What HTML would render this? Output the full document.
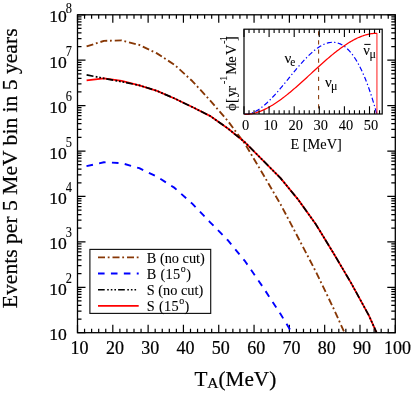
<!DOCTYPE html>
<html><head><meta charset="utf-8"><title>chart</title>
<style>
html,body{margin:0;padding:0;background:#fff;}
body{width:415px;height:394px;overflow:hidden;}
svg{will-change:transform;}
svg text{font-family:"Liberation Serif",serif;fill:#000;stroke:#000;stroke-width:0.22px;}
svg text.s{stroke-width:0.08px;}
</style></head><body>
<svg width="415" height="394" viewBox="0 0 415 394" style="display:block">
<rect x="0" y="0" width="415" height="394" fill="#fff"/>
<path d="M77.50,332.7v-8M77.50,14.8v8M84.56,332.7v-4M84.56,14.8v4M91.62,332.7v-4M91.62,14.8v4M98.69,332.7v-4M98.69,14.8v4M105.75,332.7v-4M105.75,14.8v4M112.81,332.7v-8M112.81,14.8v8M119.87,332.7v-4M119.87,14.8v4M126.94,332.7v-4M126.94,14.8v4M134.00,332.7v-4M134.00,14.8v4M141.06,332.7v-4M141.06,14.8v4M148.12,332.7v-8M148.12,14.8v8M155.18,332.7v-4M155.18,14.8v4M162.25,332.7v-4M162.25,14.8v4M169.31,332.7v-4M169.31,14.8v4M176.37,332.7v-4M176.37,14.8v4M183.43,332.7v-8M183.43,14.8v8M190.50,332.7v-4M190.50,14.8v4M197.56,332.7v-4M197.56,14.8v4M204.62,332.7v-4M204.62,14.8v4M211.68,332.7v-4M211.68,14.8v4M218.74,332.7v-8M218.74,14.8v8M225.81,332.7v-4M225.81,14.8v4M232.87,332.7v-4M232.87,14.8v4M239.93,332.7v-4M239.93,14.8v4M246.99,332.7v-4M246.99,14.8v4M254.06,332.7v-8M254.06,14.8v8M261.12,332.7v-4M261.12,14.8v4M268.18,332.7v-4M268.18,14.8v4M275.24,332.7v-4M275.24,14.8v4M282.30,332.7v-4M282.30,14.8v4M289.37,332.7v-8M289.37,14.8v8M296.43,332.7v-4M296.43,14.8v4M303.49,332.7v-4M303.49,14.8v4M310.55,332.7v-4M310.55,14.8v4M317.62,332.7v-4M317.62,14.8v4M324.68,332.7v-8M324.68,14.8v8M331.74,332.7v-4M331.74,14.8v4M338.80,332.7v-4M338.80,14.8v4M345.86,332.7v-4M345.86,14.8v4M352.93,332.7v-4M352.93,14.8v4M359.99,332.7v-8M359.99,14.8v8M367.05,332.7v-4M367.05,14.8v4M374.11,332.7v-4M374.11,14.8v4M381.18,332.7v-4M381.18,14.8v4M388.24,332.7v-4M388.24,14.8v4M395.30,332.7v-8M395.30,14.8v8M77.5,332.70h8M395.3,332.70h-8M77.5,319.03h4M395.3,319.03h-4M77.5,311.03h4M395.3,311.03h-4M77.5,305.36h4M395.3,305.36h-4M77.5,300.96h4M395.3,300.96h-4M77.5,297.36h4M395.3,297.36h-4M77.5,294.32h4M395.3,294.32h-4M77.5,291.69h4M395.3,291.69h-4M77.5,289.36h4M395.3,289.36h-4M77.5,287.29h8M395.3,287.29h-8M77.5,273.61h4M395.3,273.61h-4M77.5,265.62h4M395.3,265.62h-4M77.5,259.94h4M395.3,259.94h-4M77.5,255.54h4M395.3,255.54h-4M77.5,251.95h4M395.3,251.95h-4M77.5,248.91h4M395.3,248.91h-4M77.5,246.27h4M395.3,246.27h-4M77.5,243.95h4M395.3,243.95h-4M77.5,241.87h8M395.3,241.87h-8M77.5,228.20h4M395.3,228.20h-4M77.5,220.20h4M395.3,220.20h-4M77.5,214.53h4M395.3,214.53h-4M77.5,210.13h4M395.3,210.13h-4M77.5,206.53h4M395.3,206.53h-4M77.5,203.49h4M395.3,203.49h-4M77.5,200.86h4M395.3,200.86h-4M77.5,198.54h4M395.3,198.54h-4M77.5,196.46h8M395.3,196.46h-8M77.5,182.79h4M395.3,182.79h-4M77.5,174.79h4M395.3,174.79h-4M77.5,169.12h4M395.3,169.12h-4M77.5,164.71h4M395.3,164.71h-4M77.5,161.12h4M395.3,161.12h-4M77.5,158.08h4M395.3,158.08h-4M77.5,155.44h4M395.3,155.44h-4M77.5,153.12h4M395.3,153.12h-4M77.5,151.04h8M395.3,151.04h-8M77.5,137.37h4M395.3,137.37h-4M77.5,129.37h4M395.3,129.37h-4M77.5,123.70h4M395.3,123.70h-4M77.5,119.30h4M395.3,119.30h-4M77.5,115.70h4M395.3,115.70h-4M77.5,112.66h4M395.3,112.66h-4M77.5,110.03h4M395.3,110.03h-4M77.5,107.71h4M395.3,107.71h-4M77.5,105.63h8M395.3,105.63h-8M77.5,91.96h4M395.3,91.96h-4M77.5,83.96h4M395.3,83.96h-4M77.5,78.29h4M395.3,78.29h-4M77.5,73.89h4M395.3,73.89h-4M77.5,70.29h4M395.3,70.29h-4M77.5,67.25h4M395.3,67.25h-4M77.5,64.62h4M395.3,64.62h-4M77.5,62.29h4M395.3,62.29h-4M77.5,60.21h8M395.3,60.21h-8M77.5,46.54h4M395.3,46.54h-4M77.5,38.55h4M395.3,38.55h-4M77.5,32.87h4M395.3,32.87h-4M77.5,28.47h4M395.3,28.47h-4M77.5,24.88h4M395.3,24.88h-4M77.5,21.83h4M395.3,21.83h-4M77.5,19.20h4M395.3,19.20h-4M77.5,16.88h4M395.3,16.88h-4M77.5,14.80h8M395.3,14.80h-8" stroke="#000" stroke-width="1.2" fill="none"/>
<clipPath id="c"><rect x="77.5" y="14.8" width="317.8" height="317.9"/></clipPath>
<g clip-path="url(#c)" fill="none" stroke-linejoin="round">
<polyline points="86.60,46.40 103.98,40.87 121.64,40.43 139.29,44.96 156.95,53.36 174.61,64.89 192.26,81.02 209.92,100.27 227.57,120.62 245.23,144.25 262.88,173.93 280.54,204.30 298.19,237.72 315.85,271.63 333.51,308.37 344.40,332.50" stroke="#873705" stroke-width="1.85" stroke-dasharray="7 2.75 1.8 2.95"/>
<polyline points="86.50,166.10 103.98,162.30 121.64,163.11 139.29,168.21 156.95,176.66 174.61,187.92 192.26,203.66 209.92,222.06 227.57,239.97 245.23,261.42 262.88,286.98 280.54,314.06 292.00,332.70" stroke="#0000ff" stroke-width="1.9" stroke-dasharray="6.6 6.32"/>
<polyline points="86.60,80.30 103.98,78.30 121.64,80.80 139.29,85.33 156.95,90.84 174.61,98.54 192.26,106.99 209.92,115.83 227.57,128.27 245.23,142.52 262.88,160.28 280.54,178.16 298.19,199.63 315.85,224.33 333.51,253.18 351.16,283.11 368.82,315.33 376.60,332.70" stroke="#ff0000" stroke-width="1.8"/>
<polyline points="86.60,74.80 103.98,78.40 121.64,81.73 139.29,85.33 156.95,90.84 174.61,98.54 192.26,106.99 209.92,115.83 227.57,128.27 245.23,142.52 262.88,160.28 280.54,178.16 298.19,199.63 315.85,224.33 333.51,253.18 351.16,283.11 368.82,315.33 376.60,332.70" stroke="#000000" stroke-width="1.7" stroke-dasharray="7 2.3 1.8 1.8 1.8 1.8 1.8 1.8"/>
</g>
<rect x="77.5" y="14.8" width="317.8" height="317.9" fill="none" stroke="#000" stroke-width="1.3"/>
<text x="79.60" y="353.5" font-size="18" text-anchor="middle">10</text>
<text x="114.91" y="353.5" font-size="18" text-anchor="middle">20</text>
<text x="150.22" y="353.5" font-size="18" text-anchor="middle">30</text>
<text x="185.53" y="353.5" font-size="18" text-anchor="middle">40</text>
<text x="220.84" y="353.5" font-size="18" text-anchor="middle">50</text>
<text x="256.16" y="353.5" font-size="18" text-anchor="middle">60</text>
<text x="291.47" y="353.5" font-size="18" text-anchor="middle">70</text>
<text x="326.78" y="353.5" font-size="18" text-anchor="middle">80</text>
<text x="362.09" y="353.5" font-size="18" text-anchor="middle">90</text>
<text x="397.40" y="353.5" font-size="18" text-anchor="middle">100</text>
<text x="66.9" y="340.20" font-size="17.6" text-anchor="end">10</text>
<text x="66.9" y="294.79" font-size="17.6" text-anchor="end">10</text>
<text class="s" transform="translate(65.7,282.79) scale(0.92,1.14)" font-size="13.5">2</text>
<text x="66.9" y="249.37" font-size="17.6" text-anchor="end">10</text>
<text class="s" transform="translate(65.7,237.37) scale(0.92,1.14)" font-size="13.5">3</text>
<text x="66.9" y="203.96" font-size="17.6" text-anchor="end">10</text>
<text class="s" transform="translate(65.7,191.96) scale(0.92,1.14)" font-size="13.5">4</text>
<text x="66.9" y="158.54" font-size="17.6" text-anchor="end">10</text>
<text class="s" transform="translate(65.7,146.54) scale(0.92,1.14)" font-size="13.5">5</text>
<text x="66.9" y="113.13" font-size="17.6" text-anchor="end">10</text>
<text class="s" transform="translate(65.7,101.13) scale(0.92,1.14)" font-size="13.5">6</text>
<text x="66.9" y="67.71" font-size="17.6" text-anchor="end">10</text>
<text class="s" transform="translate(65.7,55.71) scale(0.92,1.14)" font-size="13.5">7</text>
<text x="66.9" y="21.80" font-size="17.6" text-anchor="end">10</text>
<text class="s" transform="translate(65.7,12.80) scale(0.92,1.14)" font-size="13.5">8</text>
<text x="194.4" y="386.2" font-size="21.2">T<tspan font-size="15.5" dy="1.8">A</tspan><tspan font-size="21.2" dy="-1.8">(MeV)</tspan></text>
<text transform="translate(17.3,168.3) rotate(-90)" font-size="21.6" text-anchor="middle">Events per 5 MeV bin in 5 years</text>
<rect x="89.9" y="249.4" width="120.79999999999998" height="63.99999999999997" fill="#fff" stroke="#111" stroke-width="1.15"/>
<path d="M98,257.4H138.7" stroke="#873705" stroke-width="1.85" stroke-dasharray="7 2.75 1.8 2.95" fill="none"/>
<path d="M98,273.5H138.7" stroke="#0000ff" stroke-width="1.9" stroke-dasharray="6.6 6.32" fill="none"/>
<path d="M98,289.8H136.6" stroke="#000000" stroke-width="1.6" stroke-dasharray="6.7 2.5 1.6 2 1.6 2 1.6 2.1" fill="none"/>
<path d="M98,305.9H138.7" stroke="#ff0000" stroke-width="1.8" fill="none"/>
<text class="s" x="146.8" y="262.70" font-size="14.3">B (no cut)</text>
<text class="s" x="146.8" y="278.80" font-size="14.3"><tspan letter-spacing='0.3'>B (15</tspan><tspan font-size='10' dx='0.3' dy='-7'>o</tspan><tspan dx='0.4' dy='7'>)</tspan></text>
<text class="s" x="146.8" y="295.10" font-size="14.3">S (no cut)</text>
<text class="s" x="146.8" y="311.20" font-size="14.3"><tspan letter-spacing='0.3'>S (15</tspan><tspan font-size='10' dx='0.3' dy='-7'>o</tspan><tspan dx='0.4' dy='7'>)</tspan></text>
<rect x="244.0" y="29.2" width="138.2" height="84.8" fill="#fff" stroke="none"/>
<polyline points="244.60,114.40 245.71,114.37 246.82,114.26 247.94,114.10 249.05,113.87 250.16,113.58 251.27,113.23 252.38,112.82 253.49,112.35 254.61,111.83 255.72,111.25 256.83,110.63 257.94,109.95 259.05,109.23 260.16,108.46 261.28,107.64 262.39,106.79 263.50,105.89 264.61,104.95 265.72,103.98 266.84,102.97 267.95,101.92 269.06,100.84 270.17,99.74 271.28,98.60 272.39,97.44 273.51,96.25 274.62,95.03 275.73,93.80 276.84,92.54 277.95,91.27 279.06,89.98 280.18,88.68 281.29,87.36 282.40,86.03 283.51,84.69 284.62,83.34 285.74,81.98 286.85,80.63 287.96,79.26 289.07,77.90 290.18,76.54 291.29,75.18 292.41,73.82 293.52,72.47 294.63,71.13 295.74,69.80 296.85,68.47 297.96,67.16 299.08,65.87 300.19,64.59 301.30,63.33 302.41,62.09 303.52,60.87 304.64,59.67 305.75,58.50 306.86,57.35 307.97,56.23 309.08,55.15 310.19,54.09 311.31,53.07 312.42,52.08 313.53,51.13 314.64,50.22 315.75,49.35 316.86,48.52 317.98,47.74 319.09,47.00 320.20,46.30 321.31,45.66 322.42,45.07 323.54,44.53 324.65,44.05 325.76,43.62 326.87,43.24 327.98,42.93 329.09,42.68 330.21,42.49 331.32,42.37 332.43,42.31 333.54,42.33 334.65,42.41 335.76,42.56 336.88,42.79 337.99,43.09 339.10,43.47 340.21,43.92 341.32,44.46 342.44,45.08 343.55,45.78 344.66,46.57 345.77,47.45 346.88,48.41 347.99,49.47 349.11,50.61 350.22,51.86 351.33,53.19 352.44,54.63 353.55,56.16 354.66,57.80 355.78,59.54 356.89,61.38 358.00,63.33 359.11,65.39 360.22,67.55 361.34,69.83 362.45,72.22 363.56,74.73 364.67,77.35 365.78,80.09 366.89,82.95 368.01,85.94 369.12,89.04 370.23,92.28 371.34,95.64 372.45,99.12 373.56,102.74 374.68,106.49 375.79,110.38 376.90,114.40" stroke="#0000ff" stroke-width="1.2" stroke-dasharray="5 2.4 1.3 2.4" fill="none"/>
<polyline points="244.60,114.40 245.71,114.38 246.82,114.33 247.94,114.25 249.05,114.13 250.16,113.98 251.27,113.80 252.38,113.59 253.49,113.35 254.61,113.08 255.72,112.78 256.83,112.45 257.94,112.09 259.05,111.71 260.16,111.30 261.28,110.86 262.39,110.40 263.50,109.91 264.61,109.39 265.72,108.86 266.84,108.30 267.95,107.71 269.06,107.11 270.17,106.48 271.28,105.83 272.39,105.17 273.51,104.48 274.62,103.77 275.73,103.04 276.84,102.30 277.95,101.54 279.06,100.76 280.18,99.96 281.29,99.15 282.40,98.32 283.51,97.48 284.62,96.62 285.74,95.75 286.85,94.87 287.96,93.98 289.07,93.07 290.18,92.15 291.29,91.22 292.41,90.29 293.52,89.34 294.63,88.38 295.74,87.41 296.85,86.44 297.96,85.46 299.08,84.47 300.19,83.48 301.30,82.48 302.41,81.48 303.52,80.47 304.64,79.46 305.75,78.44 306.86,77.42 307.97,76.40 309.08,75.38 310.19,74.36 311.31,73.34 312.42,72.32 313.53,71.30 314.64,70.28 315.75,69.26 316.86,68.24 317.98,67.23 319.09,66.22 320.20,65.22 321.31,64.22 322.42,63.23 323.54,62.24 324.65,61.26 325.76,60.29 326.87,59.32 327.98,58.36 329.09,57.41 330.21,56.48 331.32,55.55 332.43,54.63 333.54,53.72 334.65,52.83 335.76,51.95 336.88,51.08 337.99,50.22 339.10,49.38 340.21,48.55 341.32,47.74 342.44,46.94 343.55,46.16 344.66,45.40 345.77,44.66 346.88,43.93 347.99,43.22 349.11,42.53 350.22,41.87 351.33,41.22 352.44,40.59 353.55,39.99 354.66,39.40 355.78,38.84 356.89,38.31 358.00,37.79 359.11,37.30 360.22,36.84 361.34,36.40 362.45,35.99 363.56,35.61 364.67,35.25 365.78,34.92 366.89,34.62 368.01,34.35 369.12,34.11 370.23,33.90 371.34,33.72 372.45,33.57 373.56,33.45 374.68,33.37 375.79,33.32 376.90,33.30" stroke="#ff0000" stroke-width="1.25" fill="none" stroke-linejoin="round"/>
<path d="M376.90,33.0V114.0" stroke="#ff0000" stroke-opacity="0.6" stroke-width="1.5" fill="none"/>
<path d="M318.60,29.2V114.0" stroke="#873705" stroke-width="1.05" stroke-dasharray="4.3 4.82" stroke-dashoffset="7.12" fill="none"/>
<path d="M244.00,114.0v-7.8M244.00,29.2v7.8M249.02,114.0v-3.8M249.02,29.2v3.8M254.04,114.0v-3.8M254.04,29.2v3.8M259.06,114.0v-3.8M259.06,29.2v3.8M264.08,114.0v-3.8M264.08,29.2v3.8M269.10,114.0v-7.8M269.10,29.2v7.8M274.12,114.0v-3.8M274.12,29.2v3.8M279.14,114.0v-3.8M279.14,29.2v3.8M284.16,114.0v-3.8M284.16,29.2v3.8M289.18,114.0v-3.8M289.18,29.2v3.8M294.20,114.0v-7.8M294.20,29.2v7.8M299.22,114.0v-3.8M299.22,29.2v3.8M304.24,114.0v-3.8M304.24,29.2v3.8M309.26,114.0v-3.8M309.26,29.2v3.8M314.28,114.0v-3.8M314.28,29.2v3.8M319.30,114.0v-7.8M319.30,29.2v7.8M324.32,114.0v-3.8M324.32,29.2v3.8M329.34,114.0v-3.8M329.34,29.2v3.8M334.36,114.0v-3.8M334.36,29.2v3.8M339.38,114.0v-3.8M339.38,29.2v3.8M344.40,114.0v-7.8M344.40,29.2v7.8M349.42,114.0v-3.8M349.42,29.2v3.8M354.44,114.0v-3.8M354.44,29.2v3.8M359.46,114.0v-3.8M359.46,29.2v3.8M364.48,114.0v-3.8M364.48,29.2v3.8M369.50,114.0v-7.8M369.50,29.2v7.8M374.52,114.0v-3.8M374.52,29.2v3.8M379.54,114.0v-3.8M379.54,29.2v3.8" stroke="#000" stroke-width="1.1" fill="none"/>
<rect x="244.0" y="29.2" width="138.2" height="84.8" fill="none" stroke="#000" stroke-width="1.2"/>
<text class="s" x="245.50" y="129.6" font-size="14.4" text-anchor="middle">0</text>
<text class="s" x="270.60" y="129.6" font-size="14.4" text-anchor="middle">10</text>
<text class="s" x="295.70" y="129.6" font-size="14.4" text-anchor="middle">20</text>
<text class="s" x="320.80" y="129.6" font-size="14.4" text-anchor="middle">30</text>
<text class="s" x="345.90" y="129.6" font-size="14.4" text-anchor="middle">40</text>
<text class="s" x="371.00" y="129.6" font-size="14.4" text-anchor="middle">50</text>
<text class="s" x="290.5" y="149.1" font-size="14.3">E [MeV]</text>
<text class="s" transform="translate(236,111) rotate(-90)"><tspan x="0" y="0" font-size="14.5">ϕ</tspan><tspan x="8.0" y="0" font-size="14.5">[</tspan><tspan x="14" y="0" font-size="14.5">y</tspan><tspan x="20.3" y="0" font-size="14.5">r</tspan><tspan x="27.1" y="-9.5" font-size="10">-</tspan><tspan x="30.2" y="-9.5" font-size="10">1</tspan><tspan x="36.2" y="0" font-size="14.5">M</tspan><tspan x="48.3" y="0" font-size="14.5">e</tspan><tspan x="56" y="0" font-size="14.5">V</tspan><tspan x="67.2" y="-9.5" font-size="10">-</tspan><tspan x="69.9" y="-9.5" font-size="10">1</tspan><tspan x="69.9" y="0" font-size="14.5">]</tspan></text>
<text class="s" x="284.5" y="63" font-size="15">ν<tspan font-size="11.5" dx="-1" dy="3">e</tspan></text>
<text class="s" x="325" y="87.3" font-size="15">ν<tspan font-size="12" dx="-0.8" dy="3">μ</tspan></text>
<text class="s" x="363.3" y="54.8" font-size="14.5">ν<tspan font-size="12" dx="-0.3" dy="3.5">μ</tspan></text>
<path d="M364.3,44.4h6.3" stroke="#000" stroke-width="1"/>
</svg>
</body></html>
